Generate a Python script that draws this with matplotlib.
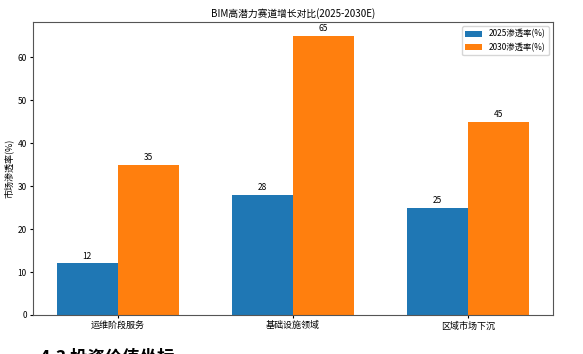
import numpy as np
import matplotlib
matplotlib.use('Agg')
import matplotlib.pyplot as plt

plt.rcParams['font.family'] = ['Noto Sans CJK SC', 'DejaVu Sans']
plt.rcParams['axes.unicode_minus'] = False

# data
categories = ['运维阶段服务', '基础设施领域', '区域市场下沉']
rate_2025 = [12, 28, 25]
rate_2030 = [35, 65, 45]
labels = ['2025渗透率(%)', '2030渗透率(%)']

fig = plt.figure(figsize=(5.83, 3.54), dpi=100)
ax = fig.add_axes([33/583, 1-315/354, 520/583, 293/354])

x = np.arange(len(categories))
w = 0.35
b1 = ax.bar(x - w/2, rate_2025, w, label=labels[0], color='#1f77b4')
b2 = ax.bar(x + w/2, rate_2030, w, label=labels[1], color='#ff7f0e')
for bars in (b1, b2):
    for b in bars:
        ax.annotate(f'{b.get_height():g}', (b.get_x() + b.get_width()/2, b.get_height()),
                    xytext=(0, 2), textcoords='offset points', ha='center', va='bottom', fontsize=6)

ax.set_xticks(x)
ax.set_xticklabels(categories, fontsize=6.5)
ax.tick_params(axis='y', labelsize=6)
ax.tick_params(length=2.5, pad=2)
ax.set_ylabel('市场渗透率(%)', fontsize=6.5, labelpad=3)
ax.set_title('BIM高潜力赛道增长对比(2025-2030E)', fontsize=7, pad=4)
ax.legend(fontsize=6, loc='upper right')
for s in ax.spines.values():
    s.set_color('#555555')

fig.text(40/583, 1-349/354, '4.3 投资价值坐标', fontsize=12.5, fontweight='bold', va='top', ha='left')

fig.savefig('out.png', dpi=100)
